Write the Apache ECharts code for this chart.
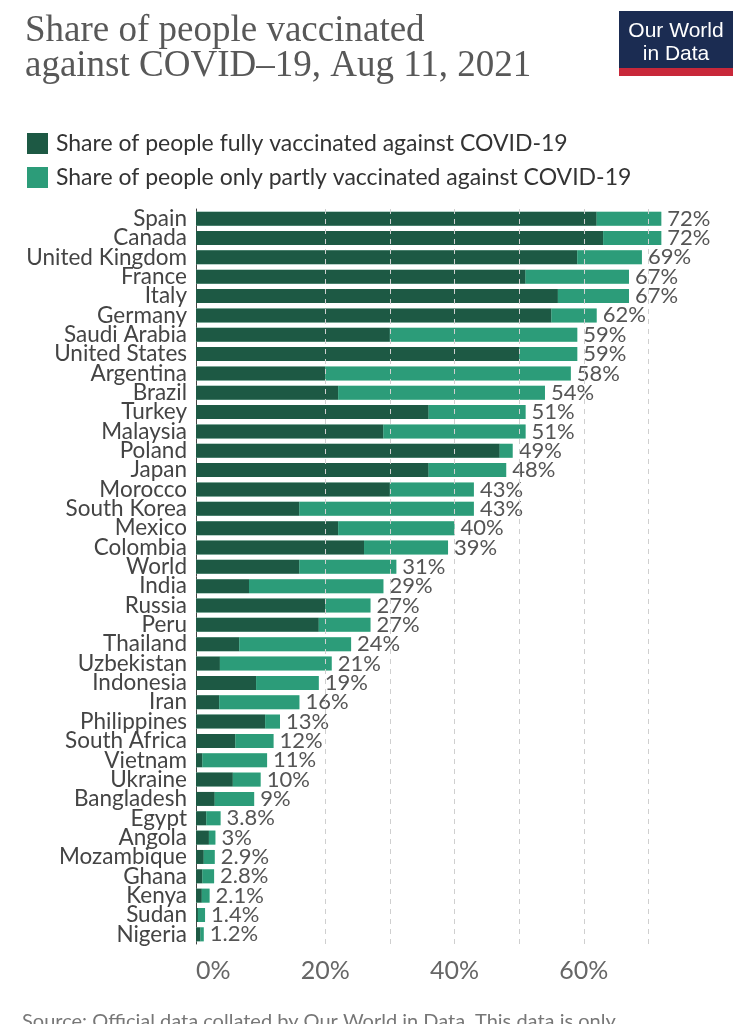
<!DOCTYPE html>
<html>
<head>
<meta charset="utf-8">
<script src="https://cdn.jsdelivr.net/npm/echarts@6/dist/echarts.min.js"></script>
<style>
html,body{margin:0;padding:0;background:#fff;}
#chart{width:739px;height:1024px;}
</style>
</head>
<body>
<div id="chart"></div>
<script>
const countries = ["Spain","Canada","United Kingdom","France","Italy","Germany","Saudi Arabia","United States","Argentina","Brazil","Turkey","Malaysia","Poland","Japan","Morocco","South Korea","Mexico","Colombia","World","India","Russia","Peru","Thailand","Uzbekistan","Indonesia","Iran","Philippines","South Africa","Vietnam","Ukraine","Bangladesh","Egypt","Angola","Mozambique","Ghana","Kenya","Sudan","Nigeria"];
const totalShare = [72,72,69,67,67,62,59,59,58,54,51,51,49,48,43,43,40,39,31,29,27,27,24,21,19,16,13,12,11,10,9,3.8,3,2.9,2.8,2.1,1.4,1.2];
const fullyShare = [62,63,59,51,56,55,30,50,20,22,36,29,47,36,30,16,22,26,16,8.2,20,19,6.7,3.7,9.3,3.6,10.7,6.1,1,5.7,2.9,1.6,2,1.2,1,0.9,0.3,0.7];
const partlyShare = [10,9,10,16,11,7,29,9,38,32,15,22,2,12,13,27,18,13,15,20.8,7,8,17.3,17.3,9.7,12.4,2.3,5.9,10,4.3,6.1,2.2,1,1.7,1.8,1.2,1.1,0.5];
const totalLabels = ["72%","72%","69%","67%","67%","62%","59%","59%","58%","54%","51%","51%","49%","48%","43%","43%","40%","39%","31%","29%","27%","27%","24%","21%","19%","16%","13%","12%","11%","10%","9%","3.8%","3%","2.9%","2.8%","2.1%","1.4%","1.2%"];
const gridLineValues = [20,30,40,50,60,70];
const axisTickLabels = [0,20,40,60];

const chart = echarts.init(document.getElementById('chart'), null, {renderer:'canvas'});
const darkGreen = '#1d5944', lightGreen = '#2c9c79', mint = '#bdefdb';
const option = {
  backgroundColor:'#ffffff',
  animation:false,
  title:{
    text:'Share of people vaccinated\nagainst COVID\u201319, Aug 11, 2021',
    left:20, top:9,
    textStyle:{fontFamily:'Liberation Serif', fontWeight:'normal', fontSize:37, lineHeight:35, color:'#585858'}
  },
  legend:{
    data:['Share of people fully vaccinated against COVID-19','Share of people only partly vaccinated against COVID-19'],
    orient:'vertical', left:22, top:127, itemWidth:21, itemHeight:21, itemGap:11,
    icon:'rect', selectedMode:false,
    textStyle:{fontFamily:'Lato', fontSize:23, color:'#333', padding:[0,0,0,3]}
  },
  grid:{left:196, right:26, top:209, bottom:80, containLabel:false},
  xAxis:{
    type:'value', min:0, max:80, interval:10,
    axisLine:{show:false}, axisTick:{show:false}, splitLine:{show:false},
    axisLabel:{
      fontFamily:'Lato', fontSize:25, color:'#666', margin:14, alignMinLabel:'left',
      formatter:v=> axisTickLabels.indexOf(v)>=0 ? v+'%' : ''
    }
  },
  yAxis:{
    type:'category', data:countries, inverse:true,
    axisLine:{show:true, lineStyle:{color:'#444', width:1}}, axisTick:{show:false},
    axisLabel:{fontFamily:'Lato', fontSize:22.5, color:'#444', margin:9, interval:0}
  },
  series:[
    {
      name:'outline', type:'bar', data:totalShare, barWidth:14, barGap:'-100%', z:1,
      itemStyle:{color:mint, borderColor:mint, borderWidth:5},
      label:{show:true, position:'right', distance:6, fontFamily:'Lato', fontSize:22, color:'#555',
        formatter:p=>totalLabels[p.dataIndex]},
      markLine:{
        silent:true, symbol:['none','none'], label:{show:false},
        lineStyle:{color:'#cfcfcf', type:[5,5], width:1},
        data:gridLineValues.map(v=>({xAxis:v}))
      }
    },
    {
      name:'Share of people fully vaccinated against COVID-19', type:'bar', stack:'v', data:fullyShare, barWidth:14, z:3,
      itemStyle:{color:darkGreen}
    },
    {
      name:'Share of people only partly vaccinated against COVID-19', type:'bar', stack:'v', data:partlyShare, barWidth:14, z:3,
      itemStyle:{color:lightGreen}
    }
  ],
  graphic:[
    {type:'rect', shape:{x:619,y:11,width:114,height:65}, style:{fill:'#1b2c52'}},
    {type:'rect', shape:{x:619,y:68,width:114,height:8}, style:{fill:'#c8283a'}},
    {type:'text', x:676, y:31, style:{text:'Our World', fill:'#fff', font:'21px "Liberation Sans Narrow", "Liberation Sans", sans-serif', align:'center', verticalAlign:'middle'}},
    {type:'text', x:676, y:54, style:{text:'in Data', fill:'#fff', font:'21px "Liberation Sans Narrow", "Liberation Sans", sans-serif', align:'center', verticalAlign:'middle'}},
    {type:'text', left:22, top:1012, style:{text:'Source: Official data collated by Our World in Data. This data is only', fill:'#777', font:'20px Lato'}}
  ]
};
chart.setOption(option);
</script>
</body>
</html>
